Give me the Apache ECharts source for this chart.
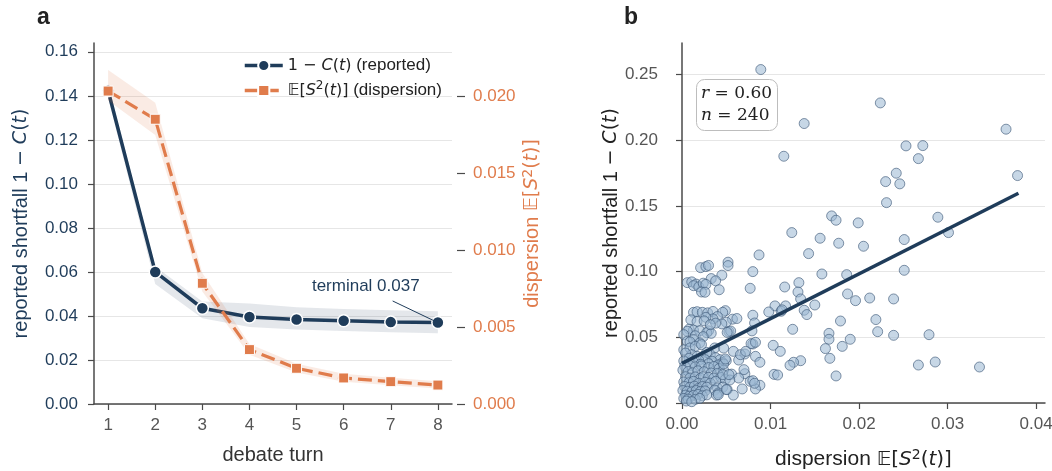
<!DOCTYPE html>
<html><head><meta charset="utf-8">
<script src="https://cdn.jsdelivr.net/npm/echarts@6/dist/echarts.min.js"></script>
<style>html,body{margin:0;padding:0;background:#fff}#c{width:1052px;height:471px}</style>
</head><body><div id="c"></div>
<script>
// ---------- panel a data ----------
const turns = [1, 2, 3, 4, 5, 6, 7, 8];
const shortfall   = [0.1423, 0.0600, 0.0435, 0.0395, 0.0384, 0.0378, 0.0372, 0.0370];
const shortfallLo = [0.1390, 0.0545, 0.0390, 0.0350, 0.0338, 0.0332, 0.0326, 0.0321];
const shortfallHi = [0.1455, 0.0625, 0.0466, 0.0457, 0.0440, 0.0432, 0.0426, 0.0421];
const dispersion   = [0.02032, 0.01849, 0.00784, 0.00353, 0.00232, 0.00169, 0.00145, 0.00123];
const dispersionLo = [0.01970, 0.01747, 0.00730, 0.00320, 0.00205, 0.00145, 0.00122, 0.00100];
const dispersionHi = [0.02169, 0.01956, 0.00850, 0.00390, 0.00262, 0.00196, 0.00170, 0.00148];
const leftTicks  = [0, 0.02, 0.04, 0.06, 0.08, 0.10, 0.12, 0.14, 0.16];
const rightTicks = [0, 0.005, 0.010, 0.015, 0.020];
const annotText = 'terminal 0.037';
const annotTextAt = [6.47, 0.0536];
const annotLine = [[7.04, 0.0468], [7.93, 0.0377]];

// ---------- panel b data ----------
const scatX = [
0.0089,0.0224,0.0138,0.0366,0.0115,0.0253,0.0272,0.0267,0.0379,0.0242,
0.0230,0.0246,0.0231,0.0169,0.0174,0.0199,0.0124,0.0289,0.0301,0.0156,
0.0177,0.0205,0.0251,0.0143,0.0087,0.0251,0.0158,0.0186,0.0080,0.0132,
0.0116,0.0077,0.0131,0.0187,0.0212,0.0239,0.0196,0.0134,0.0150,0.0117,
0.0105,0.0112,0.0098,0.0138,0.0141,0.0080,0.0082,0.0179,0.0219,0.0221,
0.0125,0.0166,0.0166,0.0190,0.0239,0.0279,0.0181,0.0162,0.0167,0.0174,
0.0267,0.0286,0.0336,0.0103,0.0111,0.0134,0.0126,0.0122,0.0104,0.0108,
0.0080,0.0078,0.0083,0.0083,0.0088,0.0071,0.0064,0.0071,0.0077,0.0088,
0.0083,0.0068,0.0080,0.0079,0.0082,0.0113,
0.0021,0.0027,0.0030,0.0052,0.0052,0.0045,0.0033,0.0038,0.0042,0.0006,
0.0011,0.0016,0.0013,0.0019,0.0024,0.0027,0.0022,0.0026,
0.0013,0.0017,0.0023,0.0029,0.0035,0.0049,0.0046,0.0040,0.0035,0.0027,
0.0057,0.0050,0.0010,0.0017,0.0025,0.0062,0.0045,0.0038,0.0008,0.0013,
0.0006,0.0020,0.0030,0.0028,0.0033,0.0053,0.0055,0.0051,0.0002,0.0015,0.0024,
0.0006,0.0013,0.0020,0.0009,0.0002,0.0009,0.0015,0.0022,0.0037,0.0047,
0.0058,0.0066,0.0072,0.0011,0.0017,0.0024,0.0032,0.0028,0.0004,0.0038,
0.0043,0.0046,0.0050,0.0026,0.0034,0.0019,0.0008,0.0013,0.0002,0.0030,0.0021,0.0041,
0.0003,0.0009,0.0015,0.0022,0.0030,0.0036,0.0042,0.0047,0.0001,0.0007,
0.0012,0.0018,0.0025,0.0033,0.0040,0.0056,0.0064,0.0070,
0.0004,0.0009,0.0015,0.0021,0.0024,0.0030,0.0036,0.0044,0.0049,0.0054,
0.0002,0.0008,0.0013,0.0019,0.0026,0.0032,0.0038,
0.0003,0.0009,0.0014,0.0018,0.0023,0.0028,0.0040,0.0046,
0.0001,0.0006,0.0011,0.0016,0.0021,0.0026,0.0037,0.0041,0.0051,
0.0004,0.0008,0.0013,0.0018,0.0023,0.0028,0.0039,0.0058,
0.0002,0.0007,0.0015,0.0020,0.0005,0.0011,
0.0047,0.0046,0.0053,0.0050,0.0041,0.0049,0.0032
];
const scatY = [
0.2538,0.2284,0.2127,0.2084,0.1878,0.1957,0.1959,0.1860,0.1731,0.1749,
0.1685,0.1668,0.1525,0.1424,0.1391,0.1371,0.1297,0.1414,0.1297,0.1254,
0.1216,0.1193,0.1244,0.1137,0.1127,0.1010,0.0982,0.0977,0.1000,0.0916,
0.0883,0.0873,0.0845,0.0830,0.0799,0.0792,0.0779,0.0792,0.0746,0.0739,
0.0739,0.0698,0.0693,0.0706,0.0673,0.0668,0.0609,0.0624,0.0635,0.0543,
0.0561,0.0530,0.0485,0.0485,0.0515,0.0520,0.0431,0.0414,0.0340,0.0206,
0.0289,0.0312,0.0274,0.0439,0.0393,0.0322,0.0310,0.0287,0.0218,0.0213,
0.0449,0.0452,0.0462,0.0355,0.0310,0.0373,0.0327,0.0223,0.0165,0.0135,
0.0107,0.0107,0.0170,0.0549,0.0150,0.0709,
0.1030,0.1038,0.1047,0.1072,0.1046,0.0973,0.0947,0.0930,0.0862,0.0916,
0.0922,0.0905,0.0893,0.0885,0.0912,0.0903,0.0845,0.0843,
0.0690,0.0695,0.0690,0.0686,0.0697,0.0703,0.0690,0.0658,0.0640,0.0652,
0.0638,0.0615,0.0633,0.0620,0.0625,0.0643,0.0602,0.0608,0.0562,0.0555,
0.0546,0.0550,0.0549,0.0535,0.0530,0.0543,0.0548,0.0537,0.0520,0.0512,0.0505,
0.0470,0.0482,0.0457,0.0465,0.0405,0.0419,0.0431,0.0444,0.0419,0.0418,
0.0393,0.0368,0.0393,0.0368,0.0355,0.0355,0.0368,0.0385,0.0380,0.0345,
0.0330,0.0308,0.0322,0.0330,0.0318,0.0325,0.0340,0.0310,0.0320,0.0300,0.0295,0.0290,
0.0280,0.0285,0.0275,0.0282,0.0270,0.0278,0.0262,0.0250,0.0250,0.0240,
0.0230,0.0245,0.0238,0.0228,0.0225,0.0220,0.0190,0.0254,
0.0200,0.0190,0.0198,0.0188,0.0200,0.0195,0.0190,0.0195,0.0180,0.0175,
0.0160,0.0155,0.0165,0.0150,0.0158,0.0150,0.0165,
0.0125,0.0120,0.0128,0.0110,0.0125,0.0120,0.0115,0.0120,
0.0095,0.0090,0.0085,0.0095,0.0088,0.0092,0.0098,0.0076,0.0102,
0.0060,0.0052,0.0058,0.0065,0.0055,0.0062,0.0060,0.0060,
0.0035,0.0030,0.0028,0.0035,0.0015,0.0010,
0.0297,0.0216,0.0216,0.0102,0.0063,0.0335,0.0596
];
const fitX = [0, 0.038];
const fitY = [0.0302, 0.1596];
const scatXTicks = [0, 0.01, 0.02, 0.03, 0.04];
const scatYTicks = [0, 0.05, 0.10, 0.15, 0.20, 0.25];
const statsLines = ['r = 0.60', 'n = 240'];

// ---------- styling ----------
const navy = '#1f3c5a';
const orange = '#e07c4c';
const spine = '#4a4a4a';
const grid = '#e6e6e6';
const SANS = 'Liberation Sans, Arial, sans-serif';
const MATH = 'DejaVu Sans';
const mathRich = (size, color) => ({
  s:   {fontFamily: SANS, fontSize: size, color, fontWeight: 'normal'},
  m:   {fontFamily: MATH, fontSize: size - 1, color, fontWeight: 'normal'},
  i:   {fontFamily: MATH, fontSize: size - 1, fontStyle: 'italic', color, fontWeight: 'normal'},
  bb:  {fontFamily: MATH, fontSize: size - 1, color, fontWeight: 'normal'},
  sup: {fontFamily: MATH, fontSize: Math.round(size * 0.68), color, fontWeight: 'normal', padding: [0, 0, 9, 0]}
});
const shortfallName = '{s|reported shortfall 1 }{m|− }{i|C}{m|(}{i|t}{m|)}';
const dispName = '{s|dispersion }{bb|𝔼}{m|[}{i|S}{sup|2}{m|(}{i|t}{m|)]}';

const data = (xs, ys) => xs.map((x, i) => [x, ys[i]]);

function band(lo, hi, yIdx, color, z) {
  return {
    type: 'custom', xAxisIndex: 0, yAxisIndex: yIdx, z, silent: true,
    data: [[turns[0], hi[0]]], encode: {x: 0, y: 1},
    renderItem: (params, api) => {
      const pts = [];
      for (let i = 0; i < turns.length; i++) pts.push(api.coord([turns[i], hi[i]]));
      for (let i = turns.length - 1; i >= 0; i--) pts.push(api.coord([turns[i], lo[i]]));
      return {type: 'polygon', shape: {points: pts}, style: {fill: color}};
    }
  };
}

const axisBase = {
  axisLine: {show: true, onZero: false, lineStyle: {color: spine, width: 1.5}},
  axisTick: {show: true, length: 6, lineStyle: {color: spine, width: 1.2}},
  splitLine: {show: false}
};

const chart = echarts.init(document.getElementById('c'), null, {renderer: 'canvas'});
chart.setOption({
  animation: false,
  backgroundColor: '#fff',
  title: [
    {text: 'a', left: 37, top: 6, padding: 0, textStyle: {fontFamily: SANS, fontWeight: 'bold', fontSize: 23, color: '#222'}},
    {text: 'b', left: 624, top: 6, padding: 0, textStyle: {fontFamily: SANS, fontWeight: 'bold', fontSize: 23, color: '#222'}},
    {text: statsLines.map(l => '{i|' + l[0] + '}{m|' + l.slice(1) + '}').join('\n'),
     left: 696, top: 79, padding: [4, 6, 4, 5], borderColor: '#bdbdbd', borderWidth: 1, borderRadius: 8,
     backgroundColor: '#fff',
     textStyle: {lineHeight: 22, fontWeight: 'normal', rich: {
       i: {fontFamily: 'DejaVu Serif', fontStyle: 'italic', fontWeight: 'normal', fontSize: 17, color: '#222', lineHeight: 22},
       m: {fontFamily: 'DejaVu Serif', fontWeight: 'normal', fontSize: 17, color: '#222', lineHeight: 22}}}}
  ],
  legend: {
    data: ['shortfall', 'dispersion'], orient: 'vertical', left: 238, top: 52,
    itemWidth: 38, itemHeight: 14, itemGap: 6, selectedMode: false,
    lineStyle: {width: 3.5},
    formatter: n => n === 'shortfall'
      ? '{m|1 − }{i|C}{m|(}{i|t}{m|)}{s| (reported)}'
      : '{bb|𝔼}{m|[}{i|S}{sup|2}{m|(}{i|t}{m|)]}{s| (dispersion)}',
    textStyle: {fontSize: 17, color: '#222', rich: mathRich(17, '#222')}
  },
  grid: [
    {left: 94, top: 43, width: 358, height: 361, outerBoundsMode: 'none', containLabel: false},
    {left: 682, top: 43, width: 363, height: 360, outerBoundsMode: 'none', containLabel: false}
  ],
  xAxis: [
    Object.assign({}, axisBase, {
      gridIndex: 0, type: 'value', min: 0.7, max: 8.3,
      axisTick: Object.assign({}, axisBase.axisTick, {customValues: turns}),
      axisLabel: {customValues: turns, margin: 13, color: '#555', fontSize: 17, fontFamily: SANS},
      name: 'debate turn', nameLocation: 'middle', nameGap: 41,
      nameTextStyle: {fontSize: 20, color: '#333', fontFamily: SANS}
    }),
    Object.assign({}, axisBase, {
      gridIndex: 1, type: 'value', min: 0, max: 0.041,
      axisTick: Object.assign({}, axisBase.axisTick, {customValues: scatXTicks}),
      axisLabel: {customValues: scatXTicks, margin: 13, color: '#555', fontSize: 17, fontFamily: SANS,
                  formatter: v => v.toFixed(2)},
      name: dispName, nameLocation: 'middle', nameGap: 45,
      nameTextStyle: {rich: mathRich(21, '#222')}
    })
  ],
  yAxis: [
    Object.assign({}, axisBase, {
      gridIndex: 0, type: 'value', min: 0, max: 0.164, position: 'left',
      axisTick: Object.assign({}, axisBase.axisTick, {customValues: leftTicks}),
      axisLabel: {customValues: leftTicks, margin: 16, color: navy, fontSize: 17, fontFamily: SANS,
                  formatter: v => v.toFixed(2)},
      splitLine: {show: true, lineStyle: {color: grid, width: 1}},
      name: shortfallName, nameLocation: 'middle', nameRotate: 90, nameGap: 63,
      nameTextStyle: {rich: mathRich(20, navy)}
    }),
    {
      gridIndex: 0, type: 'value', min: 0, max: 0.02344, position: 'right', offset: 5,
      axisLine: {show: false},
      axisTick: {show: true, length: 8, customValues: rightTicks, lineStyle: {color: spine, width: 1.2}},
      axisLabel: {customValues: rightTicks, margin: 16, color: orange, fontSize: 17, fontFamily: SANS,
                  formatter: v => v.toFixed(3)},
      splitLine: {show: false},
      name: dispName, nameLocation: 'middle', nameRotate: 90, nameGap: 64,
      nameTextStyle: {rich: mathRich(20, orange)}
    },
    Object.assign({}, axisBase, {
      gridIndex: 1, type: 'value', min: 0, max: 0.274,
      axisTick: Object.assign({}, axisBase.axisTick, {customValues: scatYTicks}),
      axisLabel: {customValues: scatYTicks, margin: 24, color: '#555', fontSize: 17, fontFamily: SANS,
                  formatter: v => v.toFixed(2)},
      splitLine: {show: true, lineStyle: {color: grid, width: 1}},
      name: shortfallName, nameLocation: 'middle', nameRotate: 90, nameGap: 53,
      nameTextStyle: {rich: mathRich(20, '#222')}
    })
  ],
  series: [
    band(shortfallLo, shortfallHi, 0, 'rgba(31,60,90,0.12)', 1),
    {
      name: 'shortfall', type: 'line', xAxisIndex: 0, yAxisIndex: 0, z: 2,
      data: data(turns, shortfall),
      symbol: 'circle', symbolSize: 12,
      lineStyle: {color: navy, width: 3.5},
      itemStyle: {color: navy, borderColor: '#fff', borderWidth: 1.5},
      markLine: {silent: true, symbol: ['none', 'none'], animation: false,
        lineStyle: {color: navy, width: 1, type: 'solid'}, label: {show: false},
        data: [[{coord: annotLine[0]}, {coord: annotLine[1]}]]},
      markPoint: {silent: true, animation: false, symbol: 'circle', symbolSize: 0,
        data: [{coord: annotTextAt, label: {show: true, position: 'inside', formatter: annotText,
          color: navy, fontSize: 17, fontFamily: SANS}}]}
    },
    band(dispersionLo, dispersionHi, 1, 'rgba(224,124,76,0.15)', 3),
    {
      name: 'dispersion', type: 'line', xAxisIndex: 0, yAxisIndex: 1, z: 4,
      data: data(turns, dispersion),
      symbol: 'rect', symbolSize: 10,
      lineStyle: {color: orange, width: 3.2, type: [14, 6]},
      itemStyle: {color: orange, borderColor: '#fff', borderWidth: 1}
    },
    {
      type: 'scatter', xAxisIndex: 1, yAxisIndex: 2, z: 2,
      data: data(scatX, scatY), symbolSize: 10,
      itemStyle: {color: 'rgba(155,184,211,0.7)', borderColor: '#3e5877', borderWidth: 0.8}
    },
    {
      type: 'line', xAxisIndex: 1, yAxisIndex: 2, z: 3,
      data: data(fitX, fitY), symbol: 'none',
      lineStyle: {color: navy, width: 3.5}
    }
  ]
});
</script></body></html>
